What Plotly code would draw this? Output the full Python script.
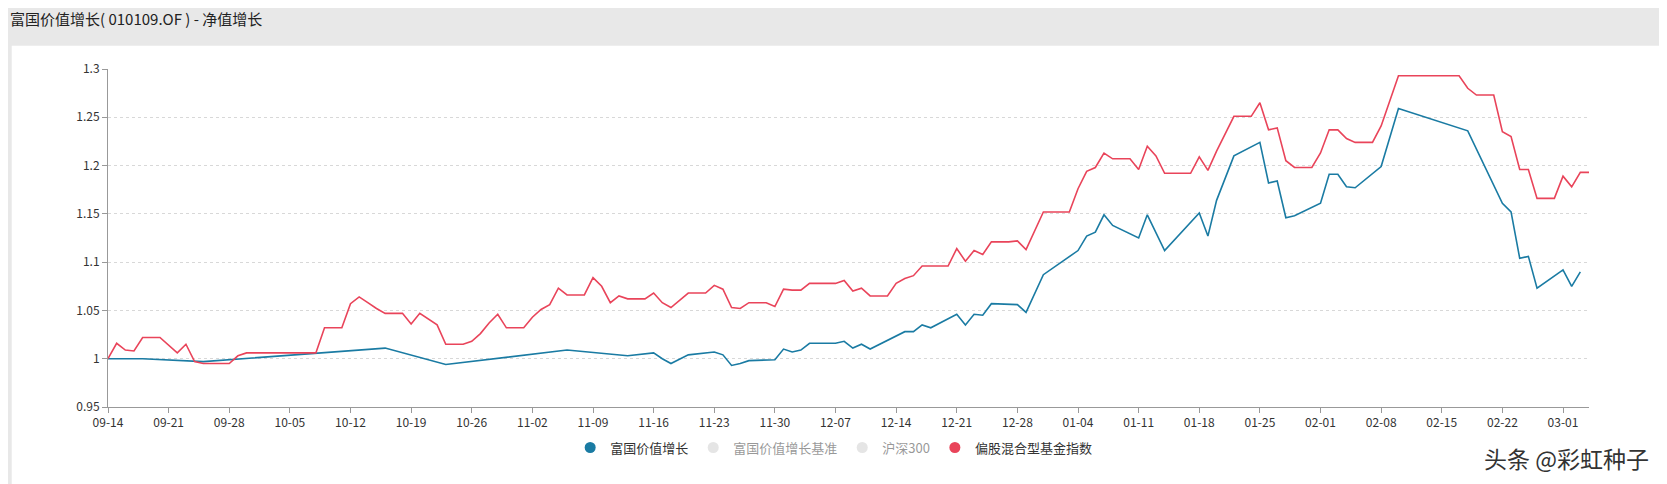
import pandas as pd
import plotly.graph_objects as go

START = pd.Timestamp("2020-09-14")

# day offsets from START, and net value readings
fund_days = [0, 4, 11, 24, 32, 39, 53, 60, 63, 64, 65, 67, 70, 71, 72, 73, 74, 77, 78,
             79, 80, 81, 84, 85, 86, 87, 88, 92, 93, 94, 95, 98, 99, 100, 101, 102, 105, 106,
             108, 112, 113, 114, 115, 116, 119, 120, 122, 126, 127, 128, 129, 130, 133, 134,
             135, 136, 137, 140, 141, 142, 143, 144, 147, 149, 157, 161, 162, 163, 164, 165,
             168, 169, 170]
fund_vals = [1.000, 1.000, 0.997, 1.006, 1.011, 0.994, 1.009, 1.003, 1.006, 1.000, 0.995,
             1.004, 1.007, 1.004, 0.993, 0.995, 0.998, 0.999, 1.010,
             1.007, 1.009, 1.016, 1.016, 1.018, 1.011, 1.015, 1.010, 1.028, 1.028, 1.035,
             1.032, 1.046, 1.035, 1.046, 1.045, 1.057, 1.056, 1.048,
             1.087, 1.112, 1.127, 1.131, 1.149, 1.138, 1.125, 1.149, 1.112, 1.151, 1.127,
             1.164, 1.186, 1.210, 1.224, 1.182,
             1.184, 1.146, 1.148, 1.161, 1.191, 1.191, 1.178, 1.177, 1.199, 1.259, 1.236,
             1.161, 1.152, 1.104, 1.106, 1.073,
             1.092, 1.075, 1.090]

index_days = [0, 1, 2, 3, 4, 6, 8, 9, 10, 11, 14, 15, 16, 24, 25, 27, 28, 29, 30, 31, 32,
              34, 35, 36, 38, 39, 41, 42, 43, 44, 45, 46, 48, 49, 50, 51, 52, 53, 55, 56, 57,
              58, 59, 60, 62, 63, 64, 65, 67, 69, 70, 71, 72, 73, 74, 76, 77, 78,
              79, 80, 81, 84, 85, 86, 87, 88, 90, 91, 92, 93, 94, 97, 98, 99, 100, 101, 102,
              104, 105, 106, 108, 111, 112, 113, 114, 115, 116, 118, 119, 120, 121, 122, 125,
              126, 127, 128, 130, 132, 133, 134, 135, 136, 137, 139, 140, 141, 142, 143, 144,
              146, 147, 149, 156, 157, 158, 160, 161, 162, 163, 164, 165, 167, 168, 169, 170,
              171]
index_vals = [1.000, 1.016, 1.009, 1.008, 1.022, 1.022, 1.006, 1.015, 0.997, 0.995, 0.995,
              1.003, 1.006, 1.006, 1.032, 1.032, 1.057, 1.064, 1.058, 1.052, 1.047,
              1.047, 1.036, 1.047, 1.035, 1.015, 1.015, 1.018, 1.026, 1.037, 1.046, 1.032,
              1.032, 1.043, 1.051, 1.056, 1.073, 1.066, 1.066, 1.084, 1.075,
              1.058, 1.065, 1.062, 1.062, 1.068, 1.058, 1.053, 1.068, 1.068, 1.076, 1.072,
              1.053, 1.052, 1.058, 1.058, 1.054, 1.072,
              1.071, 1.071, 1.078, 1.078, 1.081, 1.070, 1.073, 1.065, 1.065, 1.078, 1.083,
              1.086, 1.096, 1.096, 1.114, 1.101, 1.112, 1.108, 1.121,
              1.121, 1.122, 1.113, 1.152, 1.152, 1.176, 1.194, 1.198, 1.213, 1.207, 1.207,
              1.196, 1.220, 1.210, 1.192, 1.192,
              1.209, 1.195, 1.215, 1.251, 1.251, 1.265, 1.237, 1.239, 1.205, 1.198, 1.198,
              1.213, 1.237, 1.237, 1.228, 1.224,
              1.224, 1.241, 1.293, 1.293, 1.280, 1.273, 1.273, 1.235, 1.230, 1.196, 1.196,
              1.166, 1.166, 1.189, 1.178, 1.193,
              1.193]

series_names = ["富国价值增长", "富国价值增长基准", "沪深300", "偏股混合型基金指数"]
series_colors = ["#1a7ba3", "#cccccc", "#cccccc", "#e9445a"]
series_on = [True, False, False, True]


def to_dates(days):
    return [START + pd.Timedelta(days=d) for d in days]


fig = go.Figure()
fig.add_trace(go.Scatter(x=to_dates(fund_days), y=fund_vals, mode="lines",
                         line=dict(color=series_colors[0], width=1.6), showlegend=False))
fig.add_trace(go.Scatter(x=to_dates(index_days), y=index_vals, mode="lines",
                         line=dict(color=series_colors[3], width=1.6), showlegend=False))

# legend entries drawn as circles like the original
for name, color, on in zip(series_names, series_colors, series_on):
    fig.add_trace(go.Scatter(
        x=[None], y=[None], mode="markers", name=name,
        marker=dict(color=color, size=11, symbol="circle"),
        visible=True if on else "legendonly"
    ))

# white card behind the chart
fig.add_shape(type="rect", xref="paper", yref="paper", x0=-0.065, x1=1.0486,
              y0=-0.4, y1=1.069, fillcolor="white", line=dict(width=0), layer="below")

fig.add_annotation(text="富国价值增长( 010109.OF ) - 净值增长", xref="paper", yref="paper",
                   x=-0.0675, y=1.148, xanchor="left", yanchor="middle", showarrow=False,
                   font=dict(size=15, color="#222"))
fig.add_annotation(text="头条 @彩虹种子", xref="paper", yref="paper",
                   x=1.042, y=-0.15, xanchor="right", yanchor="middle", showarrow=False,
                   font=dict(size=23, color="#333"))

fig.update_layout(
    width=1667, height=484,
    paper_bgcolor="#e8e8e8", plot_bgcolor="white",
    margin=dict(l=100, r=86, t=61, b=85),
    font=dict(family="Noto Sans CJK SC, Noto Sans, sans-serif", size=12, color="#333"),
    legend=dict(orientation="h", x=0.49, xanchor="center", y=-0.12, yanchor="middle",
                font=dict(size=13, color="#333"), itemclick=False, bgcolor="rgba(0,0,0,0)"),
    xaxis=dict(
        type="date", range=[START, START + pd.Timedelta(days=171)],
        tick0=START, dtick=7 * 24 * 3600 * 1000, tickformat="%m-%d",
        showgrid=False, showline=True, linecolor="#999", ticks="outside",
        tickcolor="#999", ticklen=5, zeroline=False,
    ),
    yaxis=dict(
        range=[0.95, 1.3], dtick=0.05, showgrid=True, gridcolor="#d8d8d8",
        griddash="dot", showline=True, linecolor="#999", ticks="outside",
        tickcolor="#999", ticklen=5, zeroline=False,
    ),
)

fig.write_html("out.html")
